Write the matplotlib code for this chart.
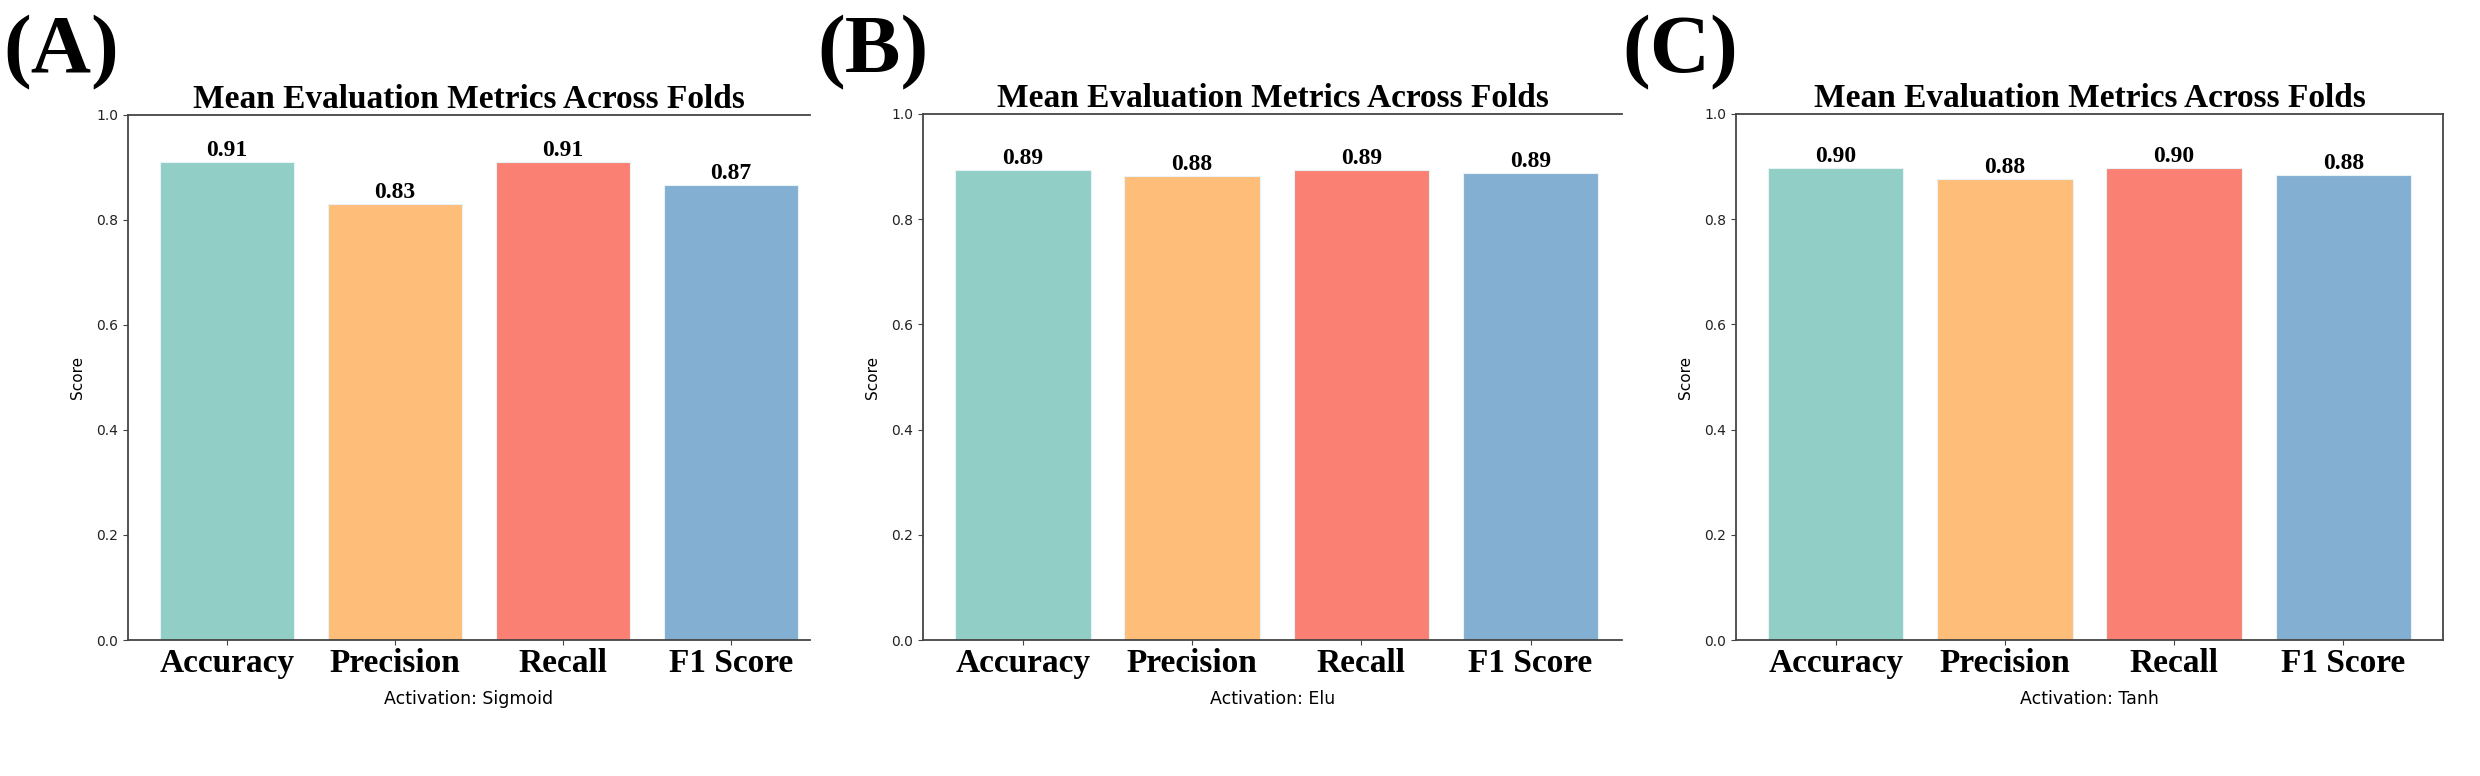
import matplotlib
matplotlib.use("Agg")
import matplotlib.pyplot as plt

# ---- data ----
metrics = ["Accuracy", "Precision", "Recall", "F1 Score"]
sigmoid_scores = [0.910, 0.830, 0.910, 0.867]
elu_scores = [0.894, 0.882, 0.894, 0.887]
tanh_scores = [0.897, 0.876, 0.897, 0.884]
activations = ["Sigmoid", "Elu", "Tanh"]
panel_tags = ["(A)", "(B)", "(C)"]
bar_colors = ["#91cfc6", "#febd79", "#f98072", "#82afd2"]

W, H = 2480, 776
fig = plt.figure(figsize=(W / 100, H / 100), dpi=100)

# axes pixel boxes: left, right, top, bottom
boxes = [(128, 810, 115, 640), (923, 1622, 114, 640), (1736, 2443, 114, 640)]
xlims = [(-0.59, 3.47), (-0.59, 3.54), (-0.59, 3.59)]
tag_x = [3, 817, 1622]
all_scores = [sigmoid_scores, elu_scores, tanh_scores]

serif = ["Liberation Serif", "DejaVu Serif"]
spine_col = "#444444"

for i, (scores, act) in enumerate(zip(all_scores, activations)):
    l, r, t, b = boxes[i]
    ax = fig.add_axes([l / W, 1 - b / H, (r - l) / W, (b - t) / H])
    x = list(range(len(metrics)))
    ax.bar(x, scores, width=0.8, color=bar_colors, edgecolor="#e9f2f5",
           linewidth=0.8)
    for xi, v in zip(x, scores):
        ax.text(xi, v + 0.002, f"{v:.2f}", ha="center", va="bottom",
                fontsize=17, fontweight="bold", family=serif)
    ax.set_ylim(0, 1.0)
    ax.set_xlim(*xlims[i])
    ax.set_xticks(x)
    ax.set_xticklabels(metrics, fontsize=24, fontweight="bold", family=serif)
    ax.set_yticks([0, 0.2, 0.4, 0.6, 0.8, 1.0])
    ax.set_yticklabels(["0.0", "0.2", "0.4", "0.6", "0.8", "1.0"])
    ax.tick_params(axis="y", labelsize=10, colors=spine_col, labelcolor="#222222")
    ax.tick_params(axis="x", colors=spine_col, labelcolor="black", pad=2)
    ax.set_ylabel("Score", fontsize=11, labelpad=8)
    ax.set_xlabel(f"Activation: {act}", fontsize=12.5, labelpad=8.5)
    ax.set_title("Mean Evaluation Metrics Across Folds", fontsize=24,
                 fontweight="bold", family=serif, pad=5)
    for s in ["left", "bottom", "top", "right"]:
        ax.spines[s].set_color(spine_col)
        ax.spines[s].set_linewidth(1.3)
    if i < 2:
        ax.spines["right"].set_visible(False)
    fig.text(tag_x[i] / W, 1 - 72 / H, panel_tags[i], fontsize=60,
             fontweight="bold", family=serif, ha="left", va="baseline")

fig.savefig("out.png", dpi=100)
